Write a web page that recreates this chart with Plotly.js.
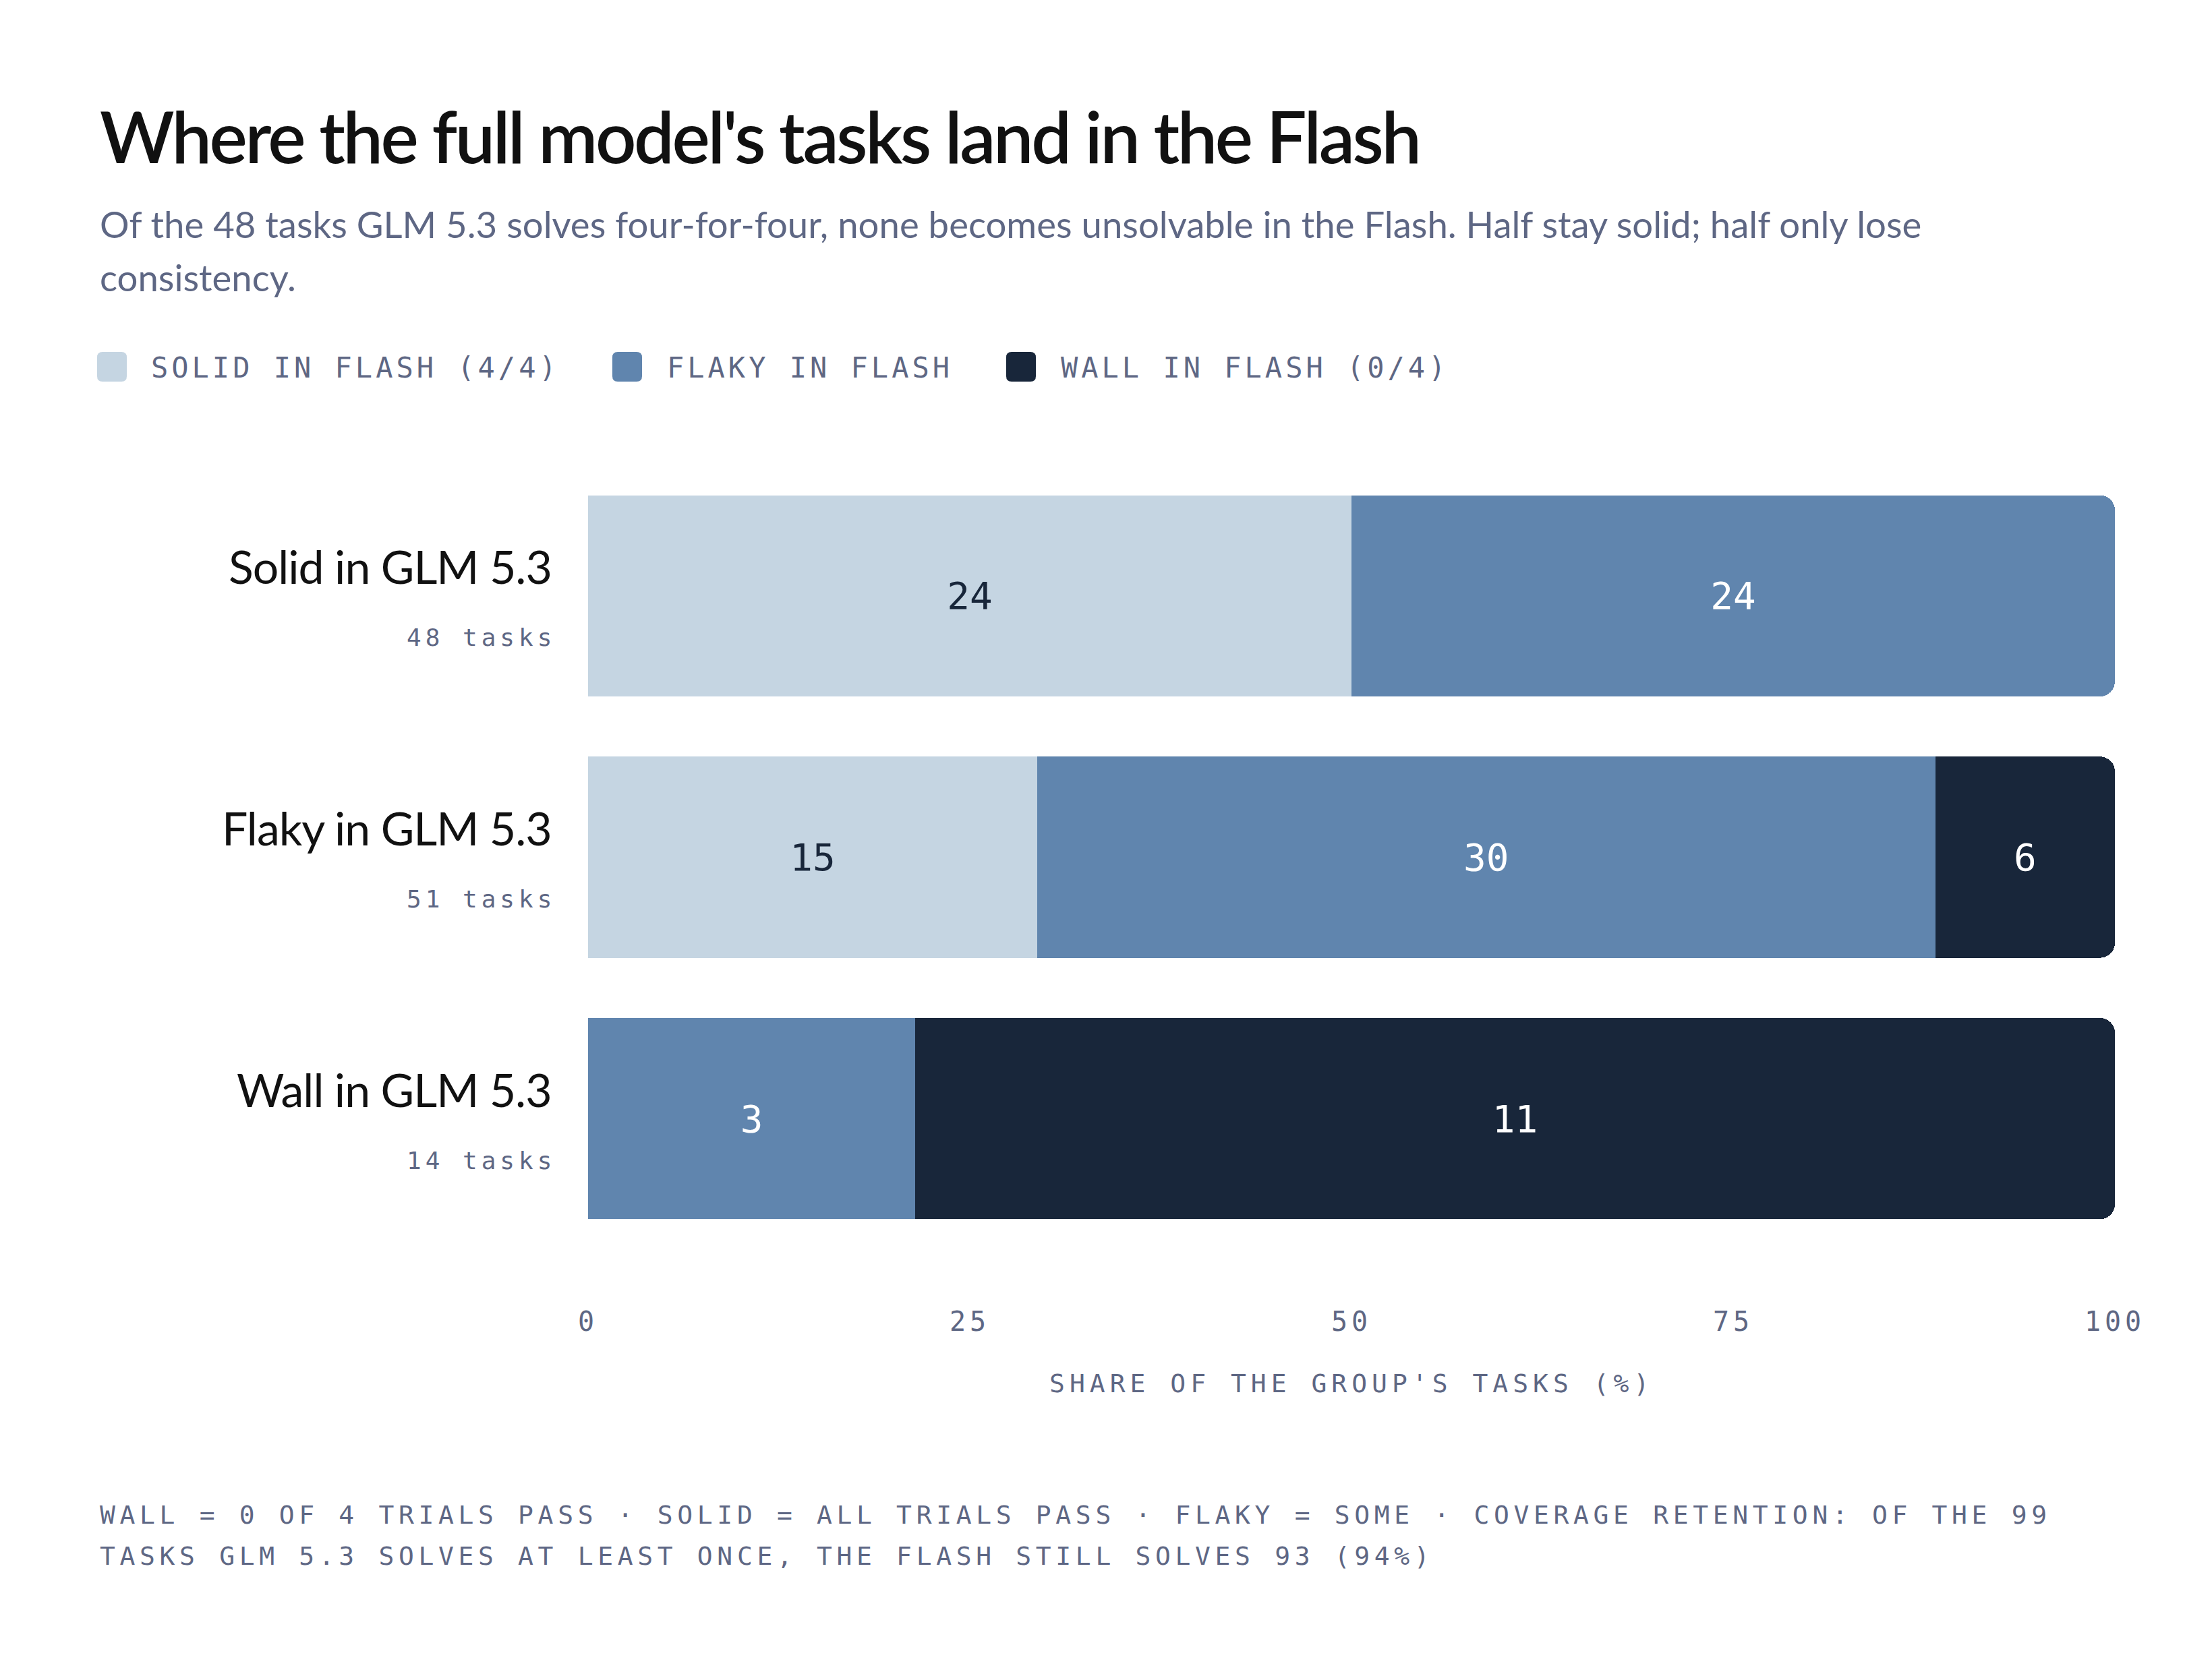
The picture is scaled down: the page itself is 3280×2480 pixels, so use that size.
<!DOCTYPE html>
<html>
<head>
<meta charset="utf-8">
<script src="https://cdn.plot.ly/plotly-3.0.1.min.js"></script>
<style>
  body { margin: 0; background: #fff; }
  #chart { width: 3280px; height: 2480px; }
  .xtick text { letter-spacing: 6px; }
</style>
</head>
<body>
<div id="chart"></div>
<script>
// groups (rows) and what happens to their tasks in the Flash
const categories = ["Solid in GLM 5.3", "Flaky in GLM 5.3", "Wall in GLM 5.3"];
const groupTotals = [48, 51, 14];
const seriesNames = ["SOLID IN FLASH (4/4)", "FLAKY IN FLASH", "WALL IN FLASH (0/4)"];
const solidCounts = [24, 15, 0];
const flakyCounts = [24, 30, 3];
const wallCounts = [0, 6, 11];
const xTicks = [0, 25, 50, 75, 100];

const W = 3280, H = 2480;
const M = {l: 872, r: 144, t: 690, b: 627};
const plotW = W - M.l - M.r, plotH = H - M.t - M.b;
const px = x => (x - M.l) / plotW;
const py = y => (H - M.b - y) / plotH;

const colors = ["#c5d5e2", "#6085ae", "#18263a"];
const textColors = ["#18263a", "#ffffff", "#ffffff"];
const gray = "#5e6784";
const mono = "DejaVu Sans Mono, monospace";
const sans = "Lato, sans-serif";

const spaced = (s, ls) => '<span style="letter-spacing:' + ls + 'px">' + s + '</span>';

const allCounts = [solidCounts, flakyCounts, wallCounts];
const data = allCounts.map(function (counts, i) {
  return {
    type: "bar",
    orientation: "h",
    name: seriesNames[i],
    y: categories,
    x: counts.map((c, j) => c / groupTotals[j] * 100),
    text: counts.map(c => c > 0 ? String(c) : ""),
    textposition: "inside",
    insidetextanchor: "middle",
    textangle: 0,
    textfont: {family: mono, size: 56, color: textColors[i]},
    marker: {color: colors[i], line: {width: 0}},
    hoverinfo: "skip",
    showlegend: false
  };
});

const annotations = [];
const shapes = [];

// title and subtitle
annotations.push({text: spaced("Where the full model's tasks land in the Flash", -3.4), xref: "paper", yref: "paper",
  x: px(146), y: py(201), xanchor: "left", yanchor: "middle", showarrow: false,
  font: {family: sans, size: 106, color: "#111111", weight: 600}});
annotations.push({text: "Of the 48 tasks GLM 5.3 solves four-for-four, none becomes unsolvable in the Flash. Half stay solid; half only lose",
  xref: "paper", yref: "paper", x: px(146), y: py(332), xanchor: "left", yanchor: "middle", showarrow: false,
  font: {family: sans, size: 54.5, color: gray}});
annotations.push({text: "consistency.", xref: "paper", yref: "paper", x: px(146), y: py(411),
  xanchor: "left", yanchor: "middle", showarrow: false, font: {family: sans, size: 54.5, color: gray}});

// legend
const legSquareX = [166, 930, 1514];
const legTextX = [222, 987, 1571];
const sq = "M-14,-22 L14,-22 Q22,-22 22,-14 L22,14 Q22,22 14,22 L-14,22 Q-22,22 -22,14 L-22,-14 Q-22,-22 -14,-22 Z";
seriesNames.forEach(function (name, i) {
  shapes.push({type: "path", xref: "paper", yref: "paper", xsizemode: "pixel", ysizemode: "pixel",
    xanchor: px(legSquareX[i]), yanchor: py(544), path: sq, fillcolor: colors[i], line: {width: 0}});
  annotations.push({text: spaced(name, 5), xref: "paper", yref: "paper", x: px(legTextX[i]), y: py(545),
    xanchor: "left", yanchor: "middle", showarrow: false, font: {family: mono, size: 42, color: gray}});
});

// row labels
categories.forEach(function (cat, i) {
  annotations.push({text: spaced(cat, -1), xref: "paper", yref: "y", x: px(820), y: cat, yshift: 44,
    xanchor: "right", yanchor: "middle", showarrow: false, font: {family: sans, size: 68, color: "#111111"}});
  annotations.push({text: spaced(groupTotals[i] + " tasks", 6), xref: "paper", yref: "y", x: px(826), y: cat, yshift: -62,
    xanchor: "right", yanchor: "middle", showarrow: false, font: {family: mono, size: 36, color: gray}});
});

// axis title
annotations.push({text: spaced("SHARE OF THE GROUP'S TASKS (%)", 7), xref: "paper", yref: "paper",
  x: px(2004), y: py(2052), xanchor: "center", yanchor: "middle", showarrow: false,
  font: {family: mono, size: 38, color: gray}});

// footnote
annotations.push({text: spaced("WALL = 0 OF 4 TRIALS PASS · SOLID = ALL TRIALS PASS · FLAKY = SOME · COVERAGE RETENTION: OF THE 99", 6.65),
  xref: "paper", yref: "paper", x: px(146), y: py(2247), xanchor: "left", yanchor: "middle", showarrow: false,
  font: {family: mono, size: 38, color: gray}});
annotations.push({text: spaced("TASKS GLM 5.3 SOLVES AT LEAST ONCE, THE FLASH STILL SOLVES 93 (94%)", 6.65),
  xref: "paper", yref: "paper", x: px(146), y: py(2308), xanchor: "left", yanchor: "middle", showarrow: false,
  font: {family: mono, size: 38, color: gray}});

const layout = {
  width: W,
  height: H,
  margin: M,
  paper_bgcolor: "#ffffff",
  plot_bgcolor: "#ffffff",
  barmode: "stack",
  bargap: 0.23,
  barcornerradius: 22,
  showlegend: false,
  xaxis: {
    range: [0, 100],
    tickvals: xTicks,
    ticktext: xTicks.map(String),
    ticks: "",
    ticklabelstandoff: 80,
    showgrid: false,
    zeroline: false,
    showline: false,
    tickfont: {family: mono, size: 40, color: gray},
    fixedrange: true
  },
  yaxis: {
    type: "category",
    categoryorder: "array",
    categoryarray: categories,
    range: [2.5, -0.5],
    showticklabels: false,
    showgrid: false,
    zeroline: false,
    showline: false,
    fixedrange: true
  },
  annotations: annotations,
  shapes: shapes
};

Plotly.newPlot("chart", data, layout, {staticPlot: true, displayModeBar: false});
</script>
</body>
</html>
